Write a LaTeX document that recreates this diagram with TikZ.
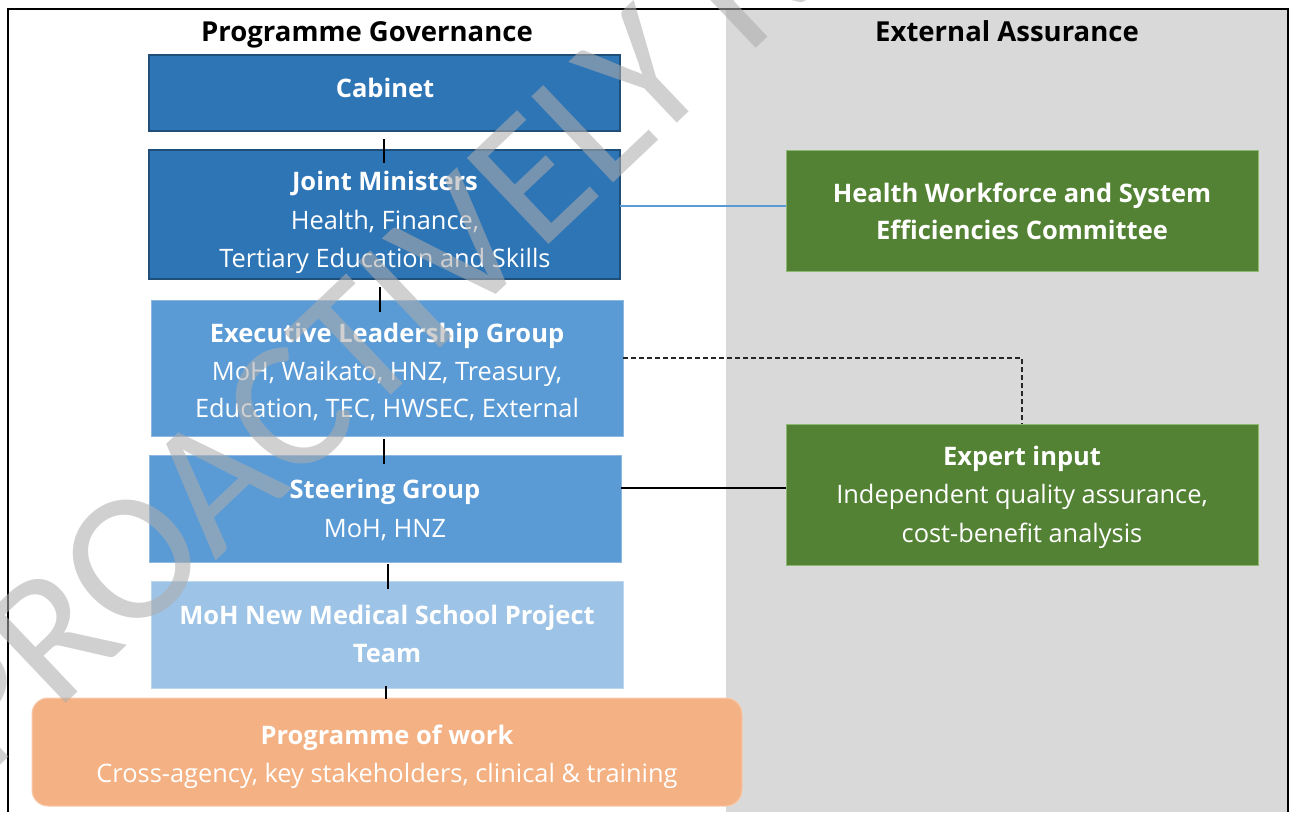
\documentclass[tikz,border=0pt]{standalone}
\usepackage{fontspec}
\setmainfont{Open Sans}
\newfontfamily\wmfont{Carlito}
\usetikzlibrary{calc}

\definecolor{darkblue}{HTML}{2E75B6}
\definecolor{navyedge}{HTML}{1F4E79}
\definecolor{midblue}{HTML}{5B9BD5}
\definecolor{midedge}{HTML}{8FB8E0}
\definecolor{paleblue}{HTML}{9DC3E6}
\definecolor{paleedge}{HTML}{BDD7EE}
\definecolor{leafgreen}{HTML}{548235}
\definecolor{greenedge}{HTML}{8DB872}
\definecolor{peach}{HTML}{F4B183}
\definecolor{peachedge}{HTML}{F8CBAD}
\definecolor{panelgrey}{HTML}{D9D9D9}
\definecolor{wmgrey}{HTML}{ADADAD}

\tikzset{
  box/.style={rectangle, inner sep=0pt, outer sep=0pt},
  topbox/.style={box, fill=darkblue, draw=navyedge, line width=2.5pt},
  midbox/.style={box, fill=midblue, draw=midedge, line width=1pt},
  teambox/.style={box, fill=paleblue, draw=paleedge, line width=1pt},
  greenbox/.style={box, fill=leafgreen, draw=greenedge, line width=1pt},
  workbox/.style={box, fill=peach, draw=peachedge, line width=1pt, rounded corners=16pt},
  heading/.style={anchor=base, inner sep=0pt, text=black,
    font=\fontsize{27.5}{33}\selectfont\bfseries},
  hd/.style={anchor=base, inner sep=0pt, text=white,
    font=\fontsize{25.5}{30}\selectfont\bfseries},
  sub/.style={anchor=base, inner sep=0pt, text=white,
    font=\fontsize{25.4}{30}\selectfont},
  vlink/.style={draw=black, line width=1.3pt},
  bluelink/.style={draw=midblue, line width=1.2pt},
  blacklink/.style={draw=black, line width=1.5pt},
  dashlink/.style={draw=black!85, line width=1.1pt, dash pattern=on 5pt off 3pt},
}

\begin{document}
\begin{tikzpicture}[x=1pt, y=-1pt]
\useasboundingbox (0,0) rectangle (1293,812);
\fill[white] (0,0) rectangle (1293,812);

% external assurance panel and frame
\fill[panelgrey] (726,9) rectangle (1288,812);
\draw[line width=2pt] (8,812) -- (8,9) -- (1288,9) -- (1288,812);

% column headings
\node[heading] (hgov) at (367,41) {Programme Governance};
\node[heading] (hext) at (1007,41) {External Assurance};

% governance boxes
\node[topbox, minimum width=471pt, minimum height=76pt] (cab) at (384.5,93) {};
\node[topbox, minimum width=471pt, minimum height=129pt] (joint) at (384.5,214.5) {};
\node[midbox, minimum width=472pt, minimum height=136pt] (elg) at (387,368) {};
\node[midbox, minimum width=472pt, minimum height=107pt] (steer) at (385,508.5) {};
\node[teambox, minimum width=472pt, minimum height=107pt] (team) at (387,634.5) {};
\node[workbox, minimum width=710pt, minimum height=108pt] (prog) at (387,752) {};

% assurance boxes
\node[greenbox, minimum width=472pt, minimum height=121pt] (hwsec) at (1022,210.5) {};
\node[greenbox, minimum width=472pt, minimum height=141pt] (expert) at (1022,494.5) {};

% box texts
\node[hd] (tcab) at (385,97) {Cabinet};

\node[hd] (tjoint1) at (385,190) {Joint Ministers};
\node[sub] (tjoint2) at (385,229) {Health, Finance,};
\node[sub] (tjoint3) at (385,267) {Tertiary Education and Skills};

\node[hd] (telg1) at (387,342) {Executive Leadership Group};
\node[sub] (telg2) at (387,380) {MoH, Waikato, HNZ, Treasury,};
\node[sub] (telg3) at (387,417) {Education, TEC, HWSEC, External};

\node[hd] (tsteer1) at (385,498) {Steering Group};
\node[sub] (tsteer2) at (385,537) {MoH, HNZ};

\node[hd] (tteam1) at (387,624) {MoH New Medical School Project};
\node[hd] (tteam2) at (387,662) {Team};

\node[hd] (tprog1) at (387,744) {Programme of work};
\node[sub] (tprog2) at (387,782) {Cross-agency, key stakeholders, clinical \& training};

\node[hd] (thw1) at (1022,202) {Health Workforce and System};
\node[hd] (thw2) at (1022,239) {Efficiencies Committee};

\node[hd] (tex1) at (1022,465) {Expert input};
\node[sub] (tex2) at (1022,503) {Independent quality assurance,};
\node[sub] (tex3) at (1022,542) {cost-benefit analysis};

% reporting lines down the governance column
\draw[vlink] ($(cab.south)+(-0.5,8)$) -- ($(joint.north)+(-0.5,13)$);
\draw[vlink] ($(joint.south)+(-4.5,8)$) -- ($(elg.north)+(-7,12)$);
\draw[vlink] ($(elg.south)+(-3,3)$) -- ($(steer.north)+(-1,9)$);
\draw[vlink] ($(steer.south)+(3,2)$) -- ($(team.north)+(1,8)$);
\draw[vlink] ($(team.south)+(-1,-2)$) -- ($(prog.north)+(-1,1)$);

% links to external assurance
\draw[bluelink] ($(joint.east)+(0,-8.5)$) -- ($(hwsec.west)+(0,-4.5)$);
\draw[dashlink] ($(elg.east)+(0,-10)$) -| (expert.north);
\draw[blacklink] ($(steer.east)+(0,-20.5)$) -- ($(expert.west)+(0,-6.5)$);

% release watermark
\node[anchor=base west, inner sep=0pt, rotate=43.5, text=wmgrey, text opacity=0.57,
      font=\wmfont\fontsize{185}{185}\selectfont] (wm) at (-13,778) {PROACTIVELY RELEASED};
\end{tikzpicture}
\end{document}
